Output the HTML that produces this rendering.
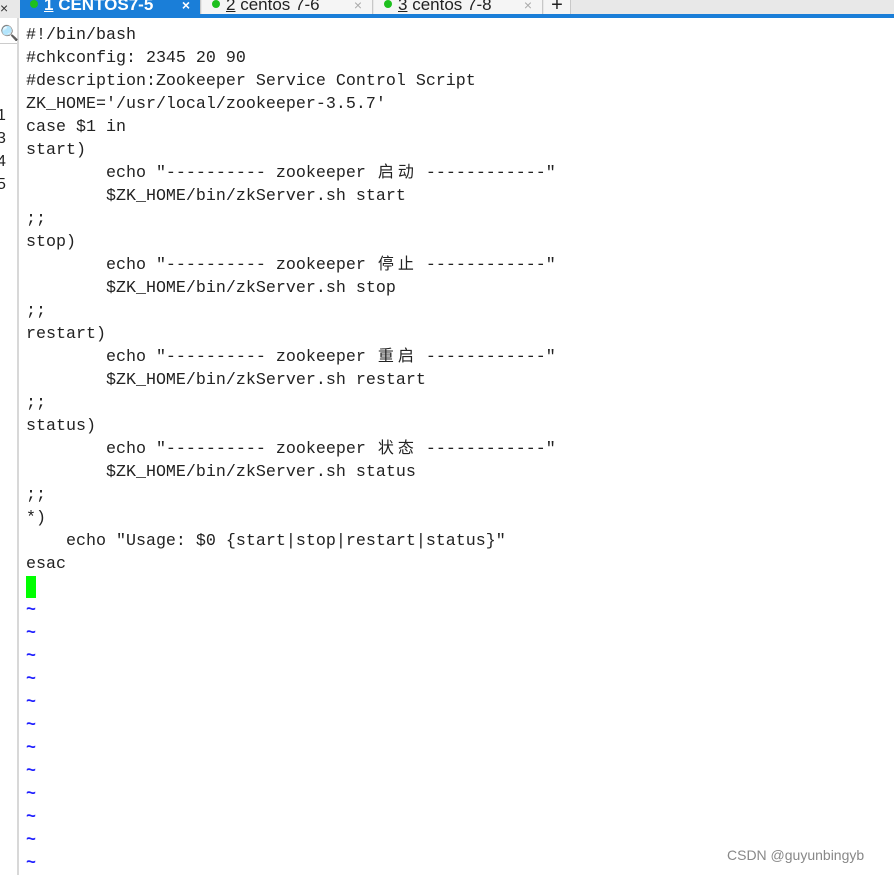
<!DOCTYPE html>
<html><head><meta charset="utf-8"><style>
body{margin:0;width:894px;height:875px;background:#fff;position:relative;overflow:hidden;font-family:"Liberation Sans",sans-serif}
.tabbar{position:absolute;left:0;top:0;width:894px;height:18px;background:#e8e8e8}
.blue{position:absolute;left:20px;top:14px;width:874px;height:4px;background:#1a7ed8}
.tab{position:absolute;top:0;height:16px;background:#f5f5f5;border-right:1px solid #c8c8c8;font-size:17px;line-height:10px;color:#222;overflow:hidden;white-space:nowrap}
.tab .dot{display:inline-block;width:8px;height:8px;border-radius:4px;background:#1ec01e;margin:0 6px 0 10px;vertical-align:2px}
.tab .x{position:absolute;right:10px;top:0;color:#aaa;font-size:14px}
.gutter{position:absolute;left:0;top:18px;width:17px;height:857px;background:#fff;border-right:2px solid #d8d8d8}
pre{position:absolute;left:26px;top:24px;margin:0;font-family:"Liberation Mono","Noto Sans CJK SC",monospace;font-size:16.67px;line-height:23px;color:#222}
pre i{font-style:normal;display:inline-block;width:20px;text-align:center;font-family:"Noto Sans CJK SC",sans-serif;font-size:16px;line-height:23px;vertical-align:top;position:relative;top:-3px}
.t{color:#2020ff;font-weight:bold}
.cur{position:absolute;left:26px;top:576px;width:10px;height:22px;background:#00ff00}
.wm{position:absolute;left:727px;top:847px;font-size:14px;color:#888}
</style></head><body>
<div class="tabbar"></div>
<div class="tab" style="left:20px;width:180px;background:#1a7ed8;color:#fff;font-weight:bold"><span class="dot"></span><u>1</u> CENTOS7-5<span class="x" style="color:#fff">×</span></div>
<div class="tab" style="left:202px;width:170px"><span class="dot"></span><u>2</u> centos 7-6<span class="x">×</span></div>
<div class="tab" style="left:374px;width:168px"><span class="dot"></span><u>3</u> centos 7-8<span class="x">×</span></div>
<div class="tab" style="left:544px;width:26px;text-align:center;font-size:20px">+</div>
<div style="position:absolute;left:0;top:0;font-size:14px;color:#333">×</div>
<div class="blue"></div>
<div class="gutter"></div>
<div style="position:absolute;left:0;top:24px;font-size:15px;color:#777">🔍</div>
<div style="position:absolute;left:-3px;top:104px;font-size:16px;line-height:23px;color:#222">1<br>3<br>4<br>5</div>
<div style="position:absolute;left:0;top:43px;width:17px;height:1px;background:#ccc"></div>
<pre>#!/bin/bash
#chkconfig: 2345 20 90
#description:Zookeeper Service Control Script
ZK_HOME='/usr/local/zookeeper-3.5.7'
case $1 in
start)
        echo "---------- zookeeper <i>启</i><i>动</i> ------------"
        $ZK_HOME/bin/zkServer.sh start
;;
stop)
        echo "---------- zookeeper <i>停</i><i>止</i> ------------"
        $ZK_HOME/bin/zkServer.sh stop
;;
restart)
        echo "---------- zookeeper <i>重</i><i>启</i> ------------"
        $ZK_HOME/bin/zkServer.sh restart
;;
status)
        echo "---------- zookeeper <i>状</i><i>态</i> ------------"
        $ZK_HOME/bin/zkServer.sh status
;;
*)
    echo "Usage: $0 {start|stop|restart|status}"
esac

<span class="t">~</span>
<span class="t">~</span>
<span class="t">~</span>
<span class="t">~</span>
<span class="t">~</span>
<span class="t">~</span>
<span class="t">~</span>
<span class="t">~</span>
<span class="t">~</span>
<span class="t">~</span>
<span class="t">~</span>
<span class="t">~</span></pre>
<div class="cur"></div>
<div class="wm">CSDN @guyunbingyb</div>
</body></html>
